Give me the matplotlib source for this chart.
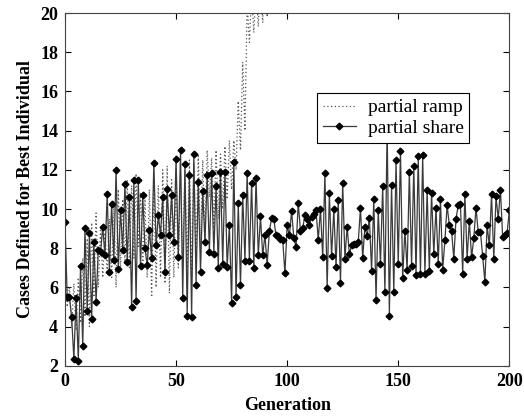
import numpy as np
import matplotlib
matplotlib.use('Agg')
import matplotlib.pyplot as plt

# partial share, one value per generation 0..200
share = [
    9.33, 5.53, 5.53, 4.47, 2.35, 5.45, 2.26, 7.07, 3.0, 9.04,
    4.82, 8.77, 4.4, 8.3, 5.28, 7.9, 7.8, 9.07, 7.63, 10.78,
    6.8, 10.27, 7.4, 12.0, 6.95, 9.93, 7.93, 11.3, 7.29, 10.6,
    4.98, 11.46, 5.33, 11.5, 7.07, 10.7, 8.0, 7.12, 8.94, 7.5,
    12.37, 8.14, 9.67, 8.7, 10.6, 6.77, 11.0, 8.7, 10.7, 8.3,
    12.57, 7.54, 13.03, 5.46, 12.28, 4.56, 11.72, 4.5, 12.83, 6.13,
    11.38, 6.77, 10.92, 8.3, 11.72, 7.8, 11.84, 7.71, 11.2, 7.0,
    11.9, 7.2, 11.9, 7.03, 9.2, 5.19, 12.4, 5.5, 10.3, 6.1,
    10.73, 7.37, 11.84, 7.37, 11.35, 7.0, 11.58, 7.63, 9.62, 7.63,
    8.69, 7.15, 8.87, 9.54, 9.47, 8.65, 8.6, 8.48, 8.4, 6.72,
    9.16, 8.65, 9.9, 8.53, 8.05, 10.3, 8.9, 9.04, 9.67, 9.5,
    9.2, 9.6, 9.76, 9.93, 8.43, 10.0, 7.54, 11.84, 5.96, 10.8,
    7.58, 10.0, 7.03, 10.44, 6.23, 11.35, 7.46, 9.1, 7.7, 8.14,
    8.2, 8.2, 8.3, 10.07, 7.5, 9.1, 8.6, 9.55, 6.86, 10.5,
    5.38, 9.93, 7.17, 11.2, 5.75, 14.2, 4.56, 11.24, 5.75, 12.5,
    7.17, 12.95, 6.5, 8.9, 6.9, 11.9, 7.1, 12.2, 6.65, 12.7,
    6.7, 12.74, 6.7, 10.95, 6.86, 10.83, 7.68, 10.07, 7.2, 10.5,
    6.9, 8.4, 10.2, 9.16, 8.9, 7.46, 9.5, 10.2, 10.27, 6.7,
    10.78, 7.46, 9.4, 7.54, 8.5, 10.07, 8.82, 8.82, 7.6, 6.26,
    9.16, 8.14, 10.75, 7.46, 10.64, 9.5, 10.98, 8.56, 8.7, 8.77,
    9.93,
]

# partial ramp, generations 0..99 (runs off the top of the axes after ~95)
ramp = [
    8.0, 5.0, 6.0, 4.0, 6.2, 3.8, 6.5, 4.2, 7.5, 4.5,
    8.5, 4.0, 9.3, 5.5, 9.8, 6.0, 9.0, 6.5, 8.8, 6.8,
    9.5, 6.5, 10.2, 6.0, 11.0, 7.0, 10.5, 7.2, 11.5, 7.0,
    11.2, 7.5, 11.8, 8.0, 10.8, 7.0, 10.5, 6.5, 11.0, 5.5,
    11.5, 6.0, 11.2, 6.5, 12.0, 6.2, 12.2, 5.7, 11.5, 6.5,
    12.0, 7.0, 11.8, 7.5, 12.0, 7.0, 12.5, 6.5, 12.3, 7.5,
    12.8, 8.0, 12.5, 8.5, 13.0, 10.6, 12.6, 9.0, 13.0, 9.5,
    12.8, 10.0, 13.2, 10.5, 13.5, 11.0, 13.5, 12.0, 15.5, 13.0,
    17.5, 14.0, 20.5, 18.5, 21.0, 19.0, 21.5, 19.3, 22.0, 19.5,
    22.5, 19.8, 23.0, 20.2, 23.5, 20.5, 24.0, 21.0, 24.5, 21.5,
]

gen_share = np.arange(len(share))
gen_ramp = np.arange(len(ramp))

plt.rcParams['font.family'] = ['Liberation Serif', 'DejaVu Serif']

fig = plt.figure(figsize=(5.24, 4.2), dpi=100)
ax = fig.add_axes([0.124, 0.129, 0.848, 0.840])

ax.plot(gen_ramp, ramp, linestyle=(0, (1, 2)), color='#555555',
        linewidth=0.9, label='partial ramp')
ax.plot(gen_share, share, linestyle='-', color='#3a3a3a', linewidth=0.9,
        marker='D', markersize=3.4, markerfacecolor='black',
        markeredgecolor='black', label='partial share')

ax.set_xlim(0, 200)
ax.set_ylim(2, 20)
ax.set_xticks([0, 50, 100, 150, 200])
ax.set_yticks(range(2, 21, 2))
ax.tick_params(direction='in', top=True, right=True, length=4, width=0.8,
               labelsize=13, pad=5)
for lab in ax.get_xticklabels() + ax.get_yticklabels():
    lab.set_fontweight('bold')
for sp in ax.spines.values():
    sp.set_linewidth(0.8)
    sp.set_color('#444444')

ax.set_xlabel('Generation', fontsize=13, fontweight='bold', labelpad=5)
ax.set_ylabel('Cases Defined for Best Individual', fontsize=13,
              fontweight='bold', labelpad=4)

leg = ax.legend(loc='upper left', bbox_to_anchor=(317 / 524, 1 - 93 / 420),
                bbox_transform=fig.transFigure, borderaxespad=0,
                fancybox=False, framealpha=1, edgecolor='black',
                fontsize=14, handlelength=1.7, borderpad=0.3,
                labelspacing=0.15, handletextpad=0.6)
leg.get_frame().set_linewidth(0.8)

fig.savefig('out.png', dpi=100)
